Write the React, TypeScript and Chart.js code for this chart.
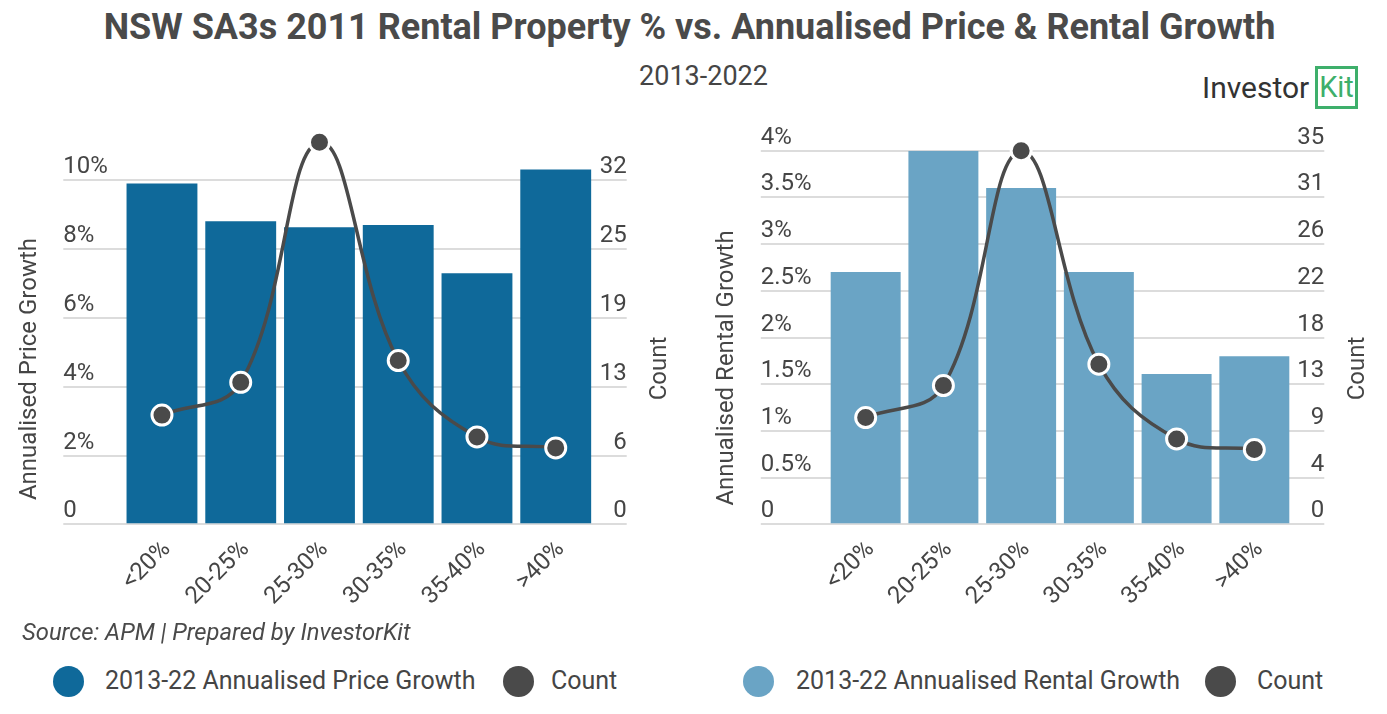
import React, { useEffect, useRef } from 'react';
import { Chart, registerables } from 'chart.js';

Chart.register(...registerables);

// ---------- data ----------
const categories = ['<20%', '20-25%', '25-30%', '30-35%', '35-40%', '>40%'];
const priceGrowth = [9.91, 8.81, 8.64, 8.7, 7.3, 10.32];
const rentalGrowth = [2.7, 4.0, 3.6, 2.7, 1.61, 1.8];
const counts = [10, 13, 35, 15, 8, 7];

const priceTicks = [0, 2, 4, 6, 8, 10];
const priceCountTicks = [0, 6.3, 12.6, 18.9, 25.2, 31.5];
const rentTicks = [0, 0.5, 1, 1.5, 2, 2.5, 3, 3.5, 4];
const rentCountTicks = [0, 4.375, 8.75, 13.125, 17.5, 21.875, 26.25, 30.625, 35];

const priceLabel = '2013-22 Annualised Price Growth';
const rentLabel = '2013-22 Annualised Rental Growth';

// ---------- styles ----------
const DARK_BLUE = '#0f699a';
const LIGHT_BLUE = '#6aa4c5';
const LINE = '#4a4a4a';
const GRID = '#dcdcdc';
const TEXT = '#454545';
const FONT = 'Roboto';

const pct = (v: number) => (v === 0 ? '0' : `${v}%`);

const axisTitlesPlugin = {
  id: 'axisTitles',
  afterDraw(chart: any, _args: any, opts: any) {
    const ctx = chart.ctx;
    ctx.save();
    ctx.font = `24px ${FONT}`;
    ctx.fillStyle = TEXT;
    ctx.textAlign = 'center';
    ctx.textBaseline = 'middle';
    for (const t of opts.items || []) {
      ctx.save();
      ctx.translate(t.x, t.y);
      ctx.rotate(-Math.PI / 2);
      ctx.fillText(t.text, 0, 0);
      ctx.restore();
    }
    ctx.restore();
  },
};

interface Cfg {
  barValues: number[];
  barLabel: string;
  barColor: string;
  growthTicks: number[];
  countTicks: number[];
  growthMax: number;
  countMax: number;
  leftWidth: number;
  leftTick: number;
  rightWidth: number;
  rightTick: number;
  padTop: number;
  xHeight: number;
  titles: { text: string; x: number; y: number }[];
}

function makeConfig(c: Cfg): any {
  return {
    type: 'bar',
    data: {
      labels: categories,
      datasets: [
        {
          type: 'line',
          label: 'Count',
          data: counts,
          yAxisID: 'yc',
          borderColor: LINE,
          borderWidth: 3.5,
          tension: 0.4,
          pointRadius: 10,
          pointBorderWidth: 3,
          pointBackgroundColor: LINE,
          pointBorderColor: '#ffffff',
          clip: false,
          order: 0,
        },
        {
          type: 'bar',
          label: c.barLabel,
          data: c.barValues,
          yAxisID: 'yg',
          backgroundColor: c.barColor,
          barPercentage: 0.9,
          categoryPercentage: 1,
          order: 1,
        },
      ],
    },
    options: {
      animation: false,
      responsive: false,
      layout: { padding: { top: c.padTop, left: 0, right: 0, bottom: 0 } },
      plugins: {
        legend: { display: false },
        tooltip: { enabled: false },
        axisTitles: { items: c.titles },
      },
      scales: {
        x: {
          grid: { display: false, drawTicks: false },
          border: { display: false },
          ticks: {
            color: TEXT,
            font: { family: FONT, size: 24 },
            maxRotation: 45,
            minRotation: 45,
            autoSkip: false,
            padding: 11,
            labelOffset: 5,
          },
          afterFit: (s: any) => {
            s.height = c.xHeight;
          },
        },
        yg: {
          position: 'left',
          min: 0,
          max: c.growthMax,
          afterBuildTicks: (a: any) => {
            a.ticks = c.growthTicks.map((v) => ({ value: v }));
          },
          grid: {
            color: GRID,
            lineWidth: 2,
            drawTicks: true,
            tickLength: c.leftTick,
            tickColor: GRID,
            tickWidth: 2,
          },
          border: { display: false },
          ticks: {
            mirror: true,
            padding: -c.leftTick,
            labelOffset: -13,
            color: TEXT,
            font: { family: FONT, size: 24 },
            callback: (v: any) => pct(Number(v)),
          },
          afterFit: (s: any) => {
            s.width = c.leftWidth;
          },
        },
        yc: {
          position: 'right',
          min: 0,
          max: c.countMax,
          afterBuildTicks: (a: any) => {
            a.ticks = c.countTicks.map((v) => ({ value: v }));
          },
          grid: {
            drawOnChartArea: false,
            color: GRID,
            lineWidth: 2,
            drawTicks: true,
            tickLength: c.rightTick,
            tickColor: GRID,
            tickWidth: 2,
          },
          border: { display: false },
          ticks: {
            mirror: true,
            padding: c.rightTick,
            labelOffset: -13,
            color: TEXT,
            font: { family: FONT, size: 24 },
            callback: (v: any) => String(Math.round(Number(v))),
          },
          afterFit: (s: any) => {
            s.width = c.rightWidth;
          },
        },
      },
    },
    plugins: [axisTitlesPlugin],
  };
}

function ChartCanvas({ cfg, width, height, left, top }: { cfg: Cfg; width: number; height: number; left: number; top: number }) {
  const ref = useRef<HTMLCanvasElement | null>(null);
  useEffect(() => {
    if (!ref.current) return;
    const chart = new Chart(ref.current, makeConfig(cfg));
    return () => chart.destroy();
  }, []);
  return (
    <canvas
      ref={ref}
      width={width}
      height={height}
      style={{ position: 'absolute', left, top, width, height }}
    />
  );
}

const leftCfg: Cfg = {
  barValues: priceGrowth,
  barLabel: priceLabel,
  barColor: DARK_BLUE,
  growthTicks: priceTicks,
  countTicks: priceCountTicks,
  growthMax: 11,
  countMax: 11 * 3.15,
  leftWidth: 122.6,
  leftTick: 59.3,
  rightWidth: 690 - 595.1,
  rightTick: 31.6,
  padTop: 44.5,
  xHeight: 95.7,
  titles: [
    { text: 'Annualised Price Growth', x: 30, y: 269 },
    { text: 'Count', x: 660, y: 268.5 },
  ],
};

const rightCfg: Cfg = {
  barValues: rentalGrowth,
  barLabel: rentLabel,
  barColor: LIGHT_BLUE,
  growthTicks: rentTicks,
  countTicks: rentCountTicks,
  growthMax: 4,
  countMax: 35,
  leftWidth: 136.8,
  leftTick: 66,
  rightWidth: 697 - 603.2,
  rightTick: 31.1,
  padTop: 50.7,
  xHeight: 95.7,
  titles: [
    { text: 'Annualised Rental Growth', x: 37, y: 268 },
    { text: 'Count', x: 668, y: 268.5 },
  ],
};

const dot = (color: string, left: number): React.CSSProperties => ({
  position: 'absolute',
  left,
  top: 681 - 15.5,
  width: 31,
  height: 31,
  borderRadius: '50%',
  background: color,
});

const legendText = (left: number): React.CSSProperties => ({
  position: 'absolute',
  left,
  top: 666,
  fontSize: 25,
  lineHeight: '30px',
  whiteSpace: 'nowrap',
  color: TEXT,
});

export default function App() {
  return (
    <div
      style={{
        position: 'absolute',
        left: 0,
        top: 0,
        width: 1387,
        height: 714,
        background: '#ffffff',
        fontFamily: FONT,
        color: TEXT,
        overflow: 'hidden',
      }}
    >
      <div
        style={{
          position: 'absolute',
          left: 0,
          top: 6,
          width: 1379,
          textAlign: 'center',
          fontSize: 36,
          fontWeight: 700,
          lineHeight: 1.2,
          color: '#4a4a4a',
          whiteSpace: 'nowrap',
        }}
      >
        NSW SA3s 2011 Rental Property % vs. Annualised Price &amp; Rental Growth
      </div>
      <div
        style={{
          position: 'absolute',
          left: 10,
          top: 60,
          width: 1387,
          textAlign: 'center',
          fontSize: 27,
          lineHeight: 1.2,
          color: TEXT,
        }}
      >
        2013-2022
      </div>
      <div style={{ position: 'absolute', left: 1202, top: 70, fontSize: 30, lineHeight: '35px', color: '#333333' }}>
        Investor
      </div>
      <div
        style={{
          position: 'absolute',
          left: 1315,
          top: 66,
          width: 37,
          height: 37,
          border: '3px solid #3eaf6b',
          color: '#3eaf6b',
          fontSize: 29,
          lineHeight: '37px',
          textAlign: 'center',
        }}
      >
        Kit
      </div>

      <ChartCanvas cfg={leftCfg} width={690} height={520} left={0} top={100} />
      <ChartCanvas cfg={rightCfg} width={697} height={520} left={690} top={100} />

      <div
        style={{
          position: 'absolute',
          left: 22,
          top: 618,
          fontSize: 23.8,
          lineHeight: '28px',
          fontStyle: 'italic',
          color: '#4a4a4a',
          whiteSpace: 'nowrap',
        }}
      >
        Source: APM | Prepared by InvestorKit
      </div>

      <div style={dot(DARK_BLUE, 53)} />
      <div style={legendText(105)}>{priceLabel}</div>
      <div style={dot(LINE, 503)} />
      <div style={legendText(551)}>Count</div>

      <div style={dot(LIGHT_BLUE, 743)} />
      <div style={legendText(796)}>{rentLabel}</div>
      <div style={dot(LINE, 1205)} />
      <div style={legendText(1257)}>Count</div>
    </div>
  );
}
